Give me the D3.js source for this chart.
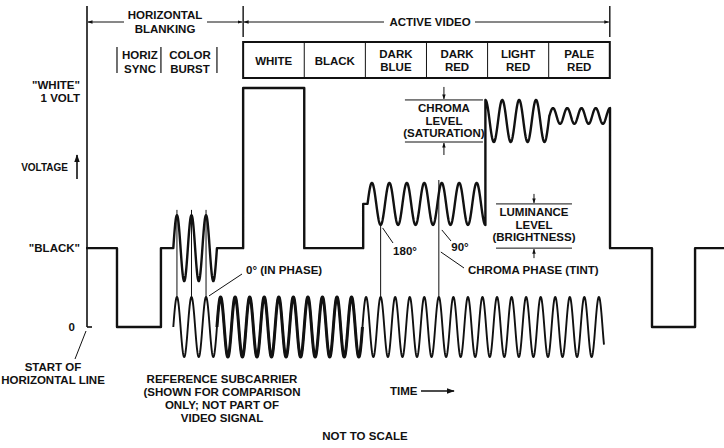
<!DOCTYPE html>
<html>
<head>
<meta charset="utf-8">
<script src="https://cdn.jsdelivr.net/npm/d3@7"></script>
<style>
  html, body { margin: 0; padding: 0; background: #fff; }
  svg { display: block; font-family: "Liberation Sans", Arial, sans-serif; font-weight: bold; }
  text { fill: #111; font-size: 11.5px; }
</style>
</head>
<body>
<svg id="chart" width="724" height="448"></svg>
<script>
// Composite colour video line. Time is counted in cycles of the colour
// subcarrier, voltage in volts (sync tip = 0, peak white = 1 V).
const timeDomain = [0, 44];
const voltDomain = [0, 1];

// Flat parts of the line: [start, end, volts]
const lumaSteps = [
  [0, 2.13, 0.33],        // front porch
  [2.13, 5.15, 0],        // horizontal sync
  [5.15, 6, 0.33],        // breezeway
  [9, 10.8, 0.33],        // back porch
  [10.8, 15.0, 1.0],      // white bar
  [15.0, 19.05, 0.33],    // black bar
  [19.05, 19.35, 0.515],  // dark blue luminance
  [36.015, 38.9, 0.33],   // front porch, next line
  [38.9, 41.86, 0],       // sync, next line
  [41.86, 44, 0.33]
];

// Parts carrying the subcarrier:
// [start, end, centre volts, amplitude, period in cycles, start phase]
const chromaParts = [
  [6, 9, 0.33, 0.138, 1, 0],                 // colour burst
  [19.35, 27.45, 0.515, 0.088, 1.2, 0],      // dark blue, dark red
  [27.45, 31.85, 0.862, 0.088, 1.16, 0.25],  // light red
  [31.85, 36.015, 0.883, 0.033, 0.98, 0]     // pale red
];

// Reference subcarrier drawn under the line (same layout as a chroma part)
const refCarrier = [6, 35.6, 0, 0.126, 1, 0];
const refHeavy = [9, 19];

// Phase comparison rules: [time, top volts]
const phaseRules = [[6.25, 0.49], [7.25, 0.49], [8.25, 0.49], [20.25, 0.427], [24.25, 0.615]];

// Colour bar row
const barEdges = [10.8, 15.0, 19.2, 23.4, 27.6, 31.8, 36.0];
const barLabels = [["WHITE"], ["BLACK"], ["DARK", "BLUE"], ["DARK", "RED"], ["LIGHT", "RED"], ["PALE", "RED"]];

// Sub-intervals of the blanking period
const blankParts = [[2.13, 5.15, ["HORIZ", "SYNC"]], [5.15, 9.0, ["COLOR", "BURST"]]];

const svg = d3.select("#chart");
const x = d3.scaleLinear().domain(timeDomain).range([86, 726.2]);
const y = d3.scaleLinear().domain(voltDomain).range([327, 88]);
const ink = "#111";

const defs = svg.append("defs");
function marker(id, w) {
  defs.append("marker").attr("id", id).attr("viewBox", "0 0 10 10")
    .attr("refX", 9).attr("refY", 5).attr("markerWidth", w).attr("markerHeight", w)
    .attr("markerUnits", "userSpaceOnUse").attr("orient", "auto-start-reverse")
    .append("path").attr("d", "M0,1.5 L10,5 L0,8.5 Z").attr("fill", ink);
}
marker("arrS", 5);
marker("arrL", 8);

function sampleWave(part, step = 0.02) {
  const [t0, t1, c, a, p, ph] = part;
  const n = Math.max(2, Math.ceil((t1 - t0) / step));
  return d3.range(n + 1).map(i => {
    const t = t0 + (t1 - t0) * i / n;
    return [t, c + a * Math.sin(2 * Math.PI * ((t - t0) / p + ph))];
  });
}

const line = d3.line().x(d => x(d[0])).y(d => y(d[1]));

// ---- composite signal
const pieces = lumaSteps.map(s => ({ t0: s[0], pts: [[s[0], s[2]], [s[1], s[2]]] }))
  .concat(chromaParts.map(c => ({ t0: c[0], pts: sampleWave(c) })))
  .sort((a, b) => a.t0 - b.t0);
const signal = pieces.flatMap(p => p.pts);

// ---- reference subcarrier
const refPts = sampleWave(refCarrier);
svg.append("path").attr("d", line(refPts)).attr("fill", "none")
  .attr("stroke", ink).attr("stroke-width", 1.9).attr("stroke-linejoin", "round");
svg.append("path").attr("d", line(refPts.filter(d => d[0] >= refHeavy[0] && d[0] <= refHeavy[1])))
  .attr("fill", "none").attr("stroke", ink).attr("stroke-width", 3).attr("stroke-linejoin", "round");

// ---- phase rules
svg.selectAll("line.phase").data(phaseRules).join("line").attr("class", "phase")
  .attr("x1", d => x(d[0])).attr("x2", d => x(d[0]))
  .attr("y1", d => y(d[1])).attr("y2", y(refCarrier[2] + refCarrier[3]))
  .attr("stroke", ink).attr("stroke-width", 1);

svg.append("path").attr("d", line(signal)).attr("fill", "none")
  .attr("stroke", ink).attr("stroke-width", 2.4).attr("stroke-linejoin", "round");

// ---- voltage axis
const axisX = x(0) + 1;
svg.append("line").attr("x1", axisX).attr("x2", axisX).attr("y1", 6).attr("y2", y(0))
  .attr("stroke", ink).attr("stroke-width", 1.6);
svg.append("line").attr("x1", axisX).attr("x2", axisX + 5).attr("y1", y(0)).attr("y2", y(0))
  .attr("stroke", ink).attr("stroke-width", 1.6);

function label(tx, ty, lines, anchor = "middle", lh = 13) {
  const t = svg.append("text").attr("x", tx).attr("y", ty).attr("text-anchor", anchor);
  lines.forEach((s, i) => t.append("tspan").attr("x", tx).attr("dy", i ? lh : 0).text(s));
  return t;
}

label(80, y(1) + 1, ['"WHITE"', "1 VOLT"], "end");
label(80, y(0.33) + 4, ['"BLACK"'], "end");
label(75, y(0) + 4, ["0"], "end");
label(68, 171, ["VOLTAGE"], "end").style("font-size", "10px");
svg.append("line").attr("x1", 77).attr("x2", 77).attr("y1", 179).attr("y2", 155)
  .attr("stroke", ink).attr("stroke-width", 1.6).attr("marker-end", "url(#arrL)");

// ---- top brackets
[x(barEdges[0]), x(barEdges[barEdges.length - 1])].forEach(px => {
  svg.append("line").attr("x1", px).attr("x2", px).attr("y1", 6).attr("y2", 37)
    .attr("stroke", ink).attr("stroke-width", 1.4);
});
function bracket(a, b, gapA, gapB) {
  svg.append("line").attr("x1", gapA).attr("x2", a).attr("y1", 22).attr("y2", 22)
    .attr("stroke", ink).attr("stroke-width", 1).attr("marker-end", "url(#arrS)");
  svg.append("line").attr("x1", gapB).attr("x2", b).attr("y1", 22).attr("y2", 22)
    .attr("stroke", ink).attr("stroke-width", 1).attr("marker-end", "url(#arrS)");
}
bracket(axisX + 1, x(barEdges[0]) - 1, 124, 207);
bracket(x(barEdges[0]) + 1, x(barEdges[6]) - 1, 384, 475);
label(165, 19, ["HORIZONTAL", "BLANKING"], "middle", 14);
label(430, 26, ["ACTIVE VIDEO"]);

// blanking sub-intervals
const sep = [...new Set(blankParts.flatMap(p => [p[0], p[1]]))];
sep.forEach(t => svg.append("line").attr("x1", x(t)).attr("x2", x(t)).attr("y1", 47).attr("y2", 73)
  .attr("stroke", ink).attr("stroke-width", 1.2));
blankParts.forEach(p => label((x(p[0]) + x(p[1])) / 2 + 1, 59, p[2], "middle", 13.5));

// ---- colour bar row
const barTop = 42, barBot = 78;
svg.append("rect").attr("x", x(barEdges[0])).attr("y", barTop)
  .attr("width", x(barEdges[6]) - x(barEdges[0])).attr("height", barBot - barTop)
  .attr("fill", "none").attr("stroke", ink).attr("stroke-width", 2);
barEdges.slice(1, -1).forEach(t => svg.append("line").attr("x1", x(t)).attr("x2", x(t))
  .attr("y1", barTop).attr("y2", barBot).attr("stroke", ink).attr("stroke-width", 1));
barLabels.forEach((lab, i) => {
  const cx = (x(barEdges[i]) + x(barEdges[i + 1])) / 2;
  label(cx, lab.length === 1 ? 65 : 58, lab, "middle", 13);
});

// ---- chroma level annotation (light red peak-to-peak)
const lr = chromaParts[2];
const cl = [x(21.92), x(27.28)];
[lr[2] + lr[3], lr[2] - lr[3]].forEach(v => svg.append("line")
  .attr("x1", cl[0]).attr("x2", cl[1]).attr("y1", y(v)).attr("y2", y(v))
  .attr("stroke", ink).attr("stroke-width", 1));
const clx = (cl[0] + cl[1]) / 2;
svg.append("line").attr("x1", clx).attr("x2", clx).attr("y1", y(lr[2] + lr[3]) - 13).attr("y2", y(lr[2] + lr[3]) - 1)
  .attr("stroke", ink).attr("stroke-width", 1).attr("marker-end", "url(#arrS)");
svg.append("line").attr("x1", clx).attr("x2", clx).attr("y1", y(lr[2] - lr[3]) + 13).attr("y2", y(lr[2] - lr[3]) + 1)
  .attr("stroke", ink).attr("stroke-width", 1).attr("marker-end", "url(#arrS)");
label(clx, 112, ["CHROMA", "LEVEL", "(SATURATION)"], "middle", 12.5);

// ---- luminance level annotation (dark red centre above black)
const ll = [x(28.18), x(33.4)];
[chromaParts[1][2], lumaSteps[0][2]].forEach(v => svg.append("line")
  .attr("x1", ll[0]).attr("x2", ll[1]).attr("y1", y(v)).attr("y2", y(v))
  .attr("stroke", ink).attr("stroke-width", 1));
const llx = (ll[0] + ll[1]) / 2;
svg.append("line").attr("x1", llx).attr("x2", llx).attr("y1", y(chromaParts[1][2]) - 10).attr("y2", y(chromaParts[1][2]) - 1)
  .attr("stroke", ink).attr("stroke-width", 1).attr("marker-end", "url(#arrS)");
svg.append("line").attr("x1", llx).attr("x2", llx).attr("y1", y(lumaSteps[0][2]) + 10).attr("y2", y(lumaSteps[0][2]) + 1)
  .attr("stroke", ink).attr("stroke-width", 1).attr("marker-end", "url(#arrS)");
label(llx, 216, ["LUMINANCE", "LEVEL", "(BRIGHTNESS)"], "middle", 12.5);

// ---- phase labels and leaders
function leader(x1, y1, x2, y2) {
  svg.append("line").attr("x1", x1).attr("y1", y1).attr("x2", x2).attr("y2", y2)
    .attr("stroke", ink).attr("stroke-width", 1);
}
leader(x(8.25) + 3, y(0.126) - 1, 242, 274);
label(246, 274, ["0° (IN PHASE)"], "start");
leader(x(20.25) + 2, y(0.427) + 3, 393, 243);
label(405, 255, ["180°"]);
leader(x(24.25) + 3, y(0.427) + 5, 451, 241);
label(460, 251, ["90°"]);
leader(x(24.25) + 2, 252, 464, 268);
label(468, 274, ["CHROMA PHASE (TINT)"], "start");

// ---- bottom notes
leader(75, 359, axisX - 1, y(0) + 4);
label(53, 371, ["START OF", "HORIZONTAL LINE"], "middle", 13);
label(222, 383, ["REFERENCE SUBCARRIER", "(SHOWN FOR COMPARISON", "ONLY; NOT PART OF", "VIDEO SIGNAL"], "middle", 13);
label(390, 395, ["TIME"], "start");
svg.append("line").attr("x1", 421).attr("x2", 454).attr("y1", 391).attr("y2", 391)
  .attr("stroke", ink).attr("stroke-width", 1.6).attr("marker-end", "url(#arrL)");
label(365, 440, ["NOT TO SCALE"]);
</script>
</body>
</html>
